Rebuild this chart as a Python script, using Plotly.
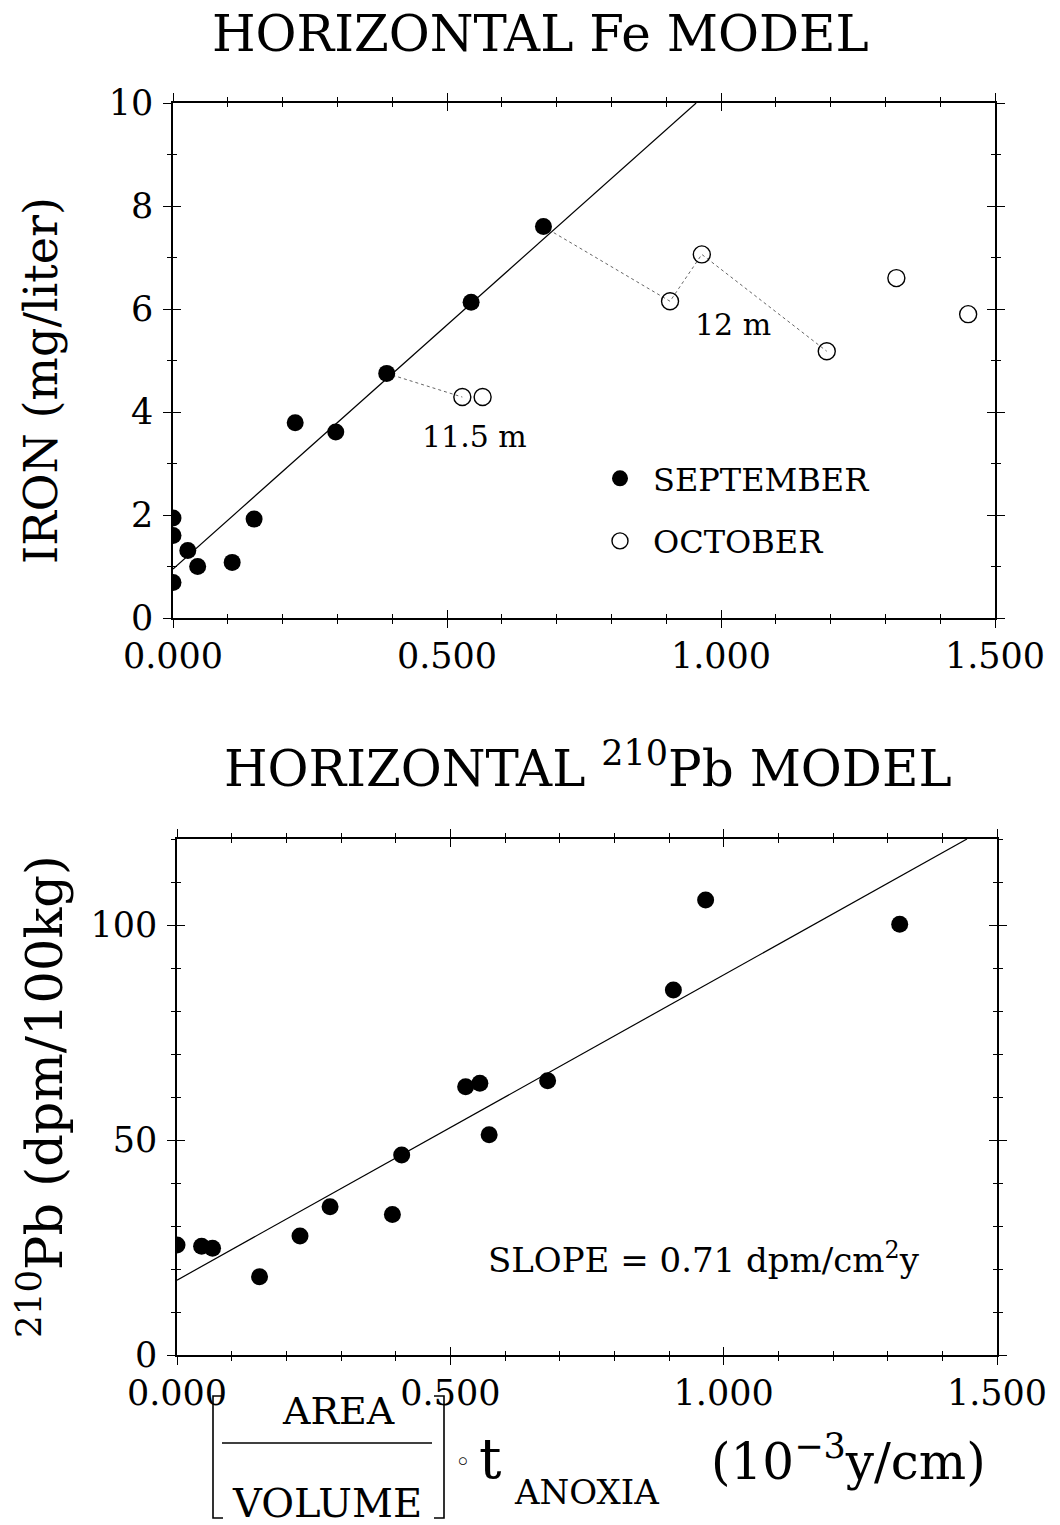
import plotly.graph_objects as go

W, H = 1060, 1525
FONT = "DejaVu Serif"

# ---- Horizontal Fe model --------------------------------------------------
sep_x = [0.000, 0.000, 0.000, 0.027, 0.045, 0.108, 0.148, 0.223, 0.297, 0.390, 0.544, 0.676]
sep_y = [1.94, 1.60, 0.69, 1.31, 1.00, 1.08, 1.92, 3.79, 3.61, 4.75, 6.13, 7.60]
oct_x = [0.528, 0.565, 0.907, 0.965, 1.193, 1.320, 1.451]
oct_y = [4.29, 4.29, 6.15, 7.06, 5.18, 6.60, 5.90]

# depth tracks joining September values to the later October values
track_115_x = [0.390, 0.528]
track_115_y = [4.75, 4.29]
track_12_x = [0.676, 0.907, 0.965, 1.193]
track_12_y = [7.60, 6.15, 7.06, 5.18]

fe_intercept, fe_slope = 0.95, 9.48
fe_ymax = 10.0

# ---- Horizontal 210Pb model -----------------------------------------------
pb_x = [0.000, 0.045, 0.065, 0.151, 0.225, 0.280, 0.394, 0.411, 0.528, 0.554,
        0.571, 0.678, 0.908, 0.967, 1.322]
pb_y = [25.6, 25.3, 24.8, 18.2, 27.7, 34.5, 32.7, 46.5, 62.4, 63.2,
        51.2, 63.8, 84.9, 105.8, 100.2]
slope_label = 0.71              # dpm/cm^2 y
pb_slope = slope_label * 100    # in (dpm/100kg) per (10^-3 y/cm)
pb_intercept = 17.4
pb_ymax = 120.0

x_ticks = [0.0, 0.5, 1.0, 1.5]
x_ticktext = ["0.000", "0.500", "1.000", "1.500"]


def px(x):
    return x / W


def py(y):
    return 1 - y / H


fig = go.Figure()

# regression line, Fe
fe_line_x = [0.0, (fe_ymax - fe_intercept) / fe_slope]
fig.add_trace(go.Scatter(x=fe_line_x, y=[fe_intercept + fe_slope * v for v in fe_line_x],
                         mode="lines", line=dict(color="black", width=1.2),
                         showlegend=False, xaxis="x", yaxis="y"))
# dotted depth tracks
for tx, ty in [(track_115_x, track_115_y), (track_12_x, track_12_y)]:
    fig.add_trace(go.Scatter(x=tx, y=ty, mode="lines",
                             line=dict(color="#666666", width=1, dash="dot"),
                             showlegend=False, xaxis="x", yaxis="y"))
fig.add_trace(go.Scatter(x=sep_x, y=sep_y, mode="markers", name="SEPTEMBER",
                         marker=dict(symbol="circle", size=17, color="black"),
                         legendgroup="sep", xaxis="x", yaxis="y"))
fig.add_trace(go.Scatter(x=oct_x, y=oct_y, mode="markers", name="OCTOBER",
                         marker=dict(symbol="circle-open", size=17, color="black",
                                     line=dict(width=1.4)),
                         legendgroup="oct", xaxis="x", yaxis="y"))

# regression line, Pb
pb_line_x = [0.0, (pb_ymax - pb_intercept) / pb_slope]
fig.add_trace(go.Scatter(x=pb_line_x, y=[pb_intercept + pb_slope * v for v in pb_line_x],
                         mode="lines", line=dict(color="black", width=1.2),
                         showlegend=False, xaxis="x2", yaxis="y2"))
fig.add_trace(go.Scatter(x=pb_x, y=pb_y, mode="markers",
                         marker=dict(symbol="circle", size=17, color="black"),
                         showlegend=False, xaxis="x2", yaxis="y2"))

# placeholder traces so the inner-tick overlay axes get drawn
for xa, ya in [("x3", "y"), ("x", "y3"), ("x4", "y2"), ("x2", "y4")]:
    fig.add_trace(go.Scatter(x=[None], y=[None], showlegend=False, hoverinfo="skip",
                             xaxis=xa, yaxis=ya))

tickfont = dict(family=FONT, size=35, color="black")


def xaxis_main(domain, anchor):
    return dict(domain=domain, anchor=anchor, range=[0, 1.5], tickvals=x_ticks,
                ticktext=x_ticktext, ticks="outside", ticklen=8, tickwidth=1.3,
                tickcolor="black", minor=dict(dtick=0.1, ticks="outside", ticklen=4,
                                              tickwidth=1.1, tickcolor="black"),
                showline=True, linecolor="black", linewidth=1.5, mirror="ticks",
                showgrid=False, zeroline=False, tickfont=tickfont, automargin=False,
                ticklabelstandoff=-2)


def xaxis_inner(over, anchor):
    return dict(overlaying=over, anchor=anchor, range=[0, 1.5], tickvals=x_ticks,
                ticks="inside", ticklen=8, tickwidth=1.3, tickcolor="black",
                minor=dict(dtick=0.1, ticks="inside", ticklen=4, tickwidth=1.1,
                           tickcolor="black"),
                showticklabels=False, showline=False, mirror="ticks",
                showgrid=False, zeroline=False, automargin=False)


def yaxis_main(domain, anchor, rng, dtick, mdtick):
    return dict(domain=domain, anchor=anchor, range=rng, tick0=0, dtick=dtick,
                ticks="outside", ticklen=8, tickwidth=1.3, tickcolor="black",
                minor=dict(dtick=mdtick, ticks="outside", ticklen=4, tickwidth=1.1,
                           tickcolor="black"),
                showline=True, linecolor="black", linewidth=1.5, mirror="ticks",
                showgrid=False, zeroline=False, tickfont=tickfont,
                ticklabelstandoff=3, automargin=False)


def yaxis_inner(over, anchor, rng, dtick, mdtick):
    return dict(overlaying=over, anchor=anchor, range=rng, tick0=0, dtick=dtick,
                ticks="inside", ticklen=8, tickwidth=1.3, tickcolor="black",
                minor=dict(dtick=mdtick, ticks="inside", ticklen=4, tickwidth=1.1,
                           tickcolor="black"),
                showticklabels=False, showline=False, mirror="ticks",
                showgrid=False, zeroline=False, automargin=False)


top_dom_x = [px(173), px(995)]
top_dom_y = [py(618), py(103)]
bot_dom_x = [px(177), px(997)]
bot_dom_y = [py(1355), py(839)]

annotations = [
    dict(text="HORIZONTAL Fe MODEL", x=px(540), y=py(34), font=dict(size=50)),
    dict(text="HORIZONTAL <sup>210</sup>Pb MODEL", x=px(588), y=py(766), font=dict(size=50)),
    dict(text="IRON (mg/liter)", x=px(41), y=py(381), textangle=-90, font=dict(size=46)),
    dict(text="<sup>210</sup>Pb (dpm/100kg)", x=px(41), y=py(1097), textangle=-90,
         font=dict(size=51)),
    dict(text="11.5 m", x=0.551, y=3.52, xref="x", yref="y", font=dict(size=30)),
    dict(text="12 m", x=1.021, y=5.70, xref="x", yref="y", font=dict(size=30)),
    dict(text="SLOPE = %.2f dpm/cm<sup>2</sup>y" % slope_label, x=0.964, y=22.5,
         xref="x2", yref="y2", font=dict(size=34)),
    # composite x-axis title of the lower panel
    dict(text="AREA", x=px(338), y=py(1411), font=dict(size=38)),
    dict(text="VOLUME", x=px(327), y=py(1503), font=dict(size=40)),
    dict(text="\u25e6", x=px(462), y=py(1462), font=dict(size=26)),
    dict(text="t", x=px(490), y=py(1458), font=dict(size=56)),
    dict(text="ANOXIA", x=px(586), y=py(1492), font=dict(size=34)),
    dict(text="(10<sup>\u22123</sup>y/cm)", x=px(848), y=py(1458), font=dict(size=50)),
]
for a in annotations:
    a.setdefault("xref", "paper")
    a.setdefault("yref", "paper")
    a["showarrow"] = False
    a["xanchor"] = "center"
    a["yanchor"] = "middle"
    a["font"] = dict(family=FONT, color="black", size=a["font"]["size"])

line_style = dict(color="black", width=1.6)
shapes = [
    # fraction bar
    dict(type="line", xref="paper", yref="paper", x0=px(222), x1=px(432),
         y0=py(1443), y1=py(1443), line=line_style),
    # left bracket
    dict(type="path", xref="paper", yref="paper",
         path="M %f %f L %f %f L %f %f L %f %f" % (px(223), py(1396), px(213), py(1396),
                                                   px(213), py(1518), px(223), py(1518)),
         line=line_style),
    # right bracket
    dict(type="path", xref="paper", yref="paper",
         path="M %f %f L %f %f L %f %f L %f %f" % (px(434), py(1396), px(444), py(1396),
                                                   px(444), py(1518), px(434), py(1518)),
         line=line_style),
]

fig.update_layout(
    width=W, height=H,
    margin=dict(l=0, r=0, t=0, b=0, pad=0, autoexpand=False),
    paper_bgcolor="white", plot_bgcolor="white",
    font=dict(family=FONT, color="black"),
    xaxis=xaxis_main(top_dom_x, "y"),
    yaxis=yaxis_main(top_dom_y, "x", [0, fe_ymax], 2, 1),
    xaxis2=xaxis_main(bot_dom_x, "y2"),
    yaxis2=yaxis_main(bot_dom_y, "x2", [0, pb_ymax], 50, 10),
    xaxis3=xaxis_inner("x", "y"),
    yaxis3=yaxis_inner("y", "x", [0, fe_ymax], 2, 1),
    xaxis4=xaxis_inner("x2", "y2"),
    yaxis4=yaxis_inner("y2", "x2", [0, pb_ymax], 50, 10),
    legend=dict(x=px(587), y=py(451), xanchor="left", yanchor="top",
                bgcolor="rgba(0,0,0,0)", font=dict(family=FONT, size=32, color="black"),
                itemwidth=56, tracegroupgap=18),
    annotations=annotations,
    shapes=shapes,
)

fig.write_html("out.html")
